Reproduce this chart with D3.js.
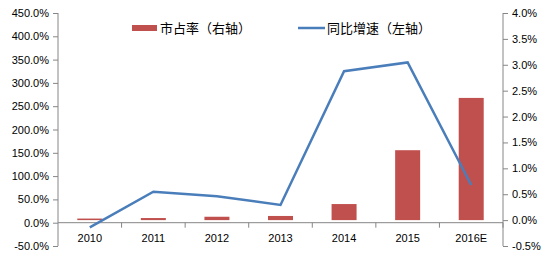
<!DOCTYPE html>
<html><head><meta charset="utf-8">
<script src="https://cdn.jsdelivr.net/npm/d3@7"></script>
<style>body{margin:0;background:#fff}svg{display:block}</style>
</head><body>
<svg id="c" width="550" height="257"></svg>
<script>
const categories = ["2010","2011","2012","2013","2014","2015","2016E"];
const shareValues = [0.03, 0.04, 0.065, 0.08, 0.31, 1.35, 2.36];      // 市占率 (%), right axis
const growthValues = [-10, 66.5, 57, 38, 325, 344, 81];               // 同比增速 (%), left axis
const leftTicks = [-50,0,50,100,150,200,250,300,350,400,450];
const rightTicks = [-0.5,0,0.5,1,1.5,2,2.5,3,3.5,4];

const svg = d3.select("#c");
const L = 58, R = 503, T = 13, B = 246;
const x = d3.scaleBand().domain(categories).range([L, R]);
const yL = d3.scaleLinear().domain([-50, 450]).range([B, T]);
const yR = d3.scaleLinear().domain([-0.5, 4]).range([B, T]);
const axisColor = "#868686";
const font = "'Liberation Sans', Arial, sans-serif";

// bars
svg.append("g").selectAll("rect").data(categories).join("rect")
  .attr("x", d => x(d) + x.bandwidth()/2 - 12.5)
  .attr("width", 25)
  .attr("y", (d,i) => yR(shareValues[i]))
  .attr("height", (d,i) => yR(0) - yR(shareValues[i]))
  .attr("fill", "#c0504d");

// left axis
const gl = svg.append("g").attr("transform", `translate(${L},0)`)
  .call(d3.axisLeft(yL).tickValues(leftTicks).tickSize(5).tickPadding(4).tickFormat(d => d.toFixed(1) + "%"));
// right axis
const gr = svg.append("g").attr("transform", `translate(${R},0)`)
  .call(d3.axisRight(yR).tickValues(rightTicks).tickSize(5).tickPadding(4).tickFormat(d => d.toFixed(1) + "%"));
// x axis at left zero
const gx = svg.append("g").attr("transform", `translate(0,${yL(0)})`)
  .call(d3.axisBottom(x).tickSize(0).tickPadding(12));
gx.selectAll(".tick line").remove();
gx.append("g").selectAll("line").data(d3.range(1, categories.length + 1)).join("line")
  .attr("x1", i => L + i * x.step()).attr("x2", i => L + i * x.step())
  .attr("y1", 0).attr("y2", 5).attr("stroke", axisColor);

[gl, gr, gx].forEach(g => {
  g.selectAll(".domain").attr("stroke", axisColor);
  g.selectAll(".tick line").attr("stroke", axisColor);
  g.selectAll("text").attr("fill", "#000").style("font-family", font).style("font-size", "11px");
});
gl.select(".domain").attr("d", `M0,${B}V${T}`);
gr.select(".domain").attr("d", `M0,${B}V${T}`);
gx.select(".domain").attr("d", `M${L},0H${R}`);

// line
const line = d3.line().x((d,i) => x(categories[i]) + x.bandwidth()/2).y(d => yL(d));
svg.append("path").datum(growthValues).attr("d", line)
  .attr("fill", "none").attr("stroke", "#4a7ebb").attr("stroke-width", 2.5)
  .attr("stroke-linejoin", "miter");

// legend
const lg = svg.append("g").style("font-family", "'Noto Sans CJK SC', sans-serif").style("font-size", "13px");
lg.append("rect").attr("x", 132).attr("y", 25).attr("width", 25).attr("height", 6).attr("fill", "#c0504d");
lg.append("text").attr("x", 160).attr("y", 33).text("市占率（右轴）");
lg.append("line").attr("x1", 298).attr("x2", 325).attr("y1", 28).attr("y2", 28).attr("stroke", "#4a7ebb").attr("stroke-width", 2.5);
lg.append("text").attr("x", 327).attr("y", 33).text("同比增速（左轴）");
</script>
</body></html>
